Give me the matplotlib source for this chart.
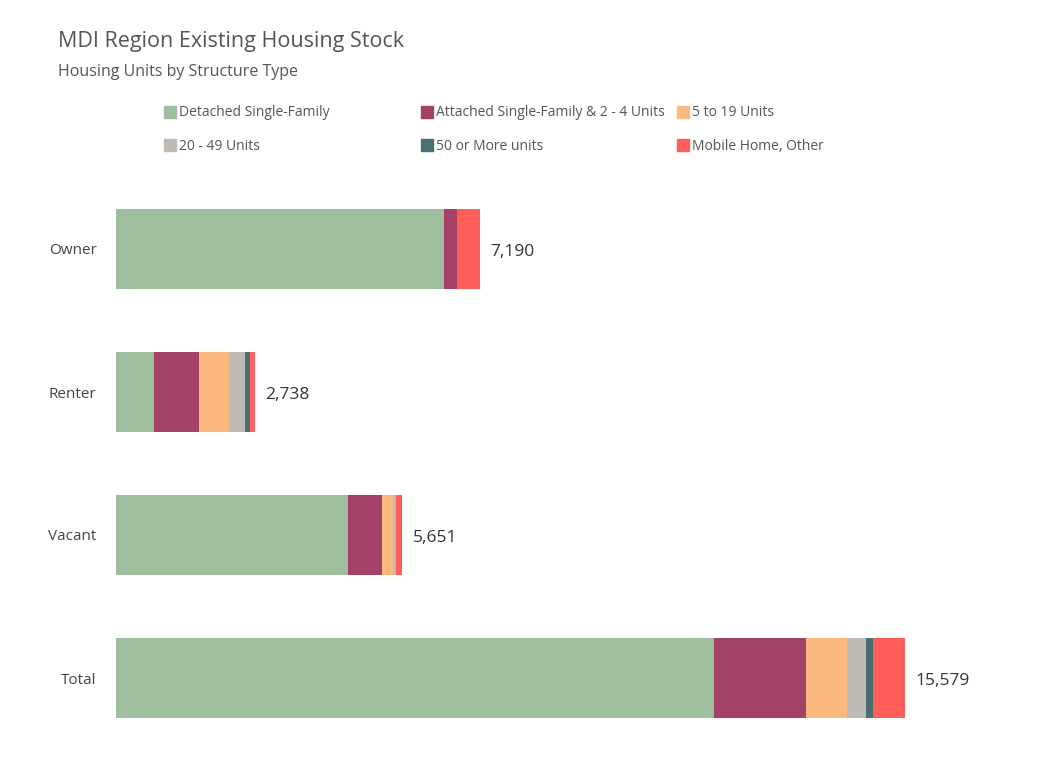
import matplotlib.pyplot as plt
from matplotlib.patches import Rectangle

plt.rcParams['font.family'] = ['Open Sans', 'DejaVu Sans']

# Data
categories = ['Owner', 'Renter', 'Vacant', 'Total']
series = ['Detached Single-Family', 'Attached Single-Family & 2 - 4 Units', '5 to 19 Units',
          '20 - 49 Units', '50 or More units', 'Mobile Home, Other']
detached = [6470, 750, 4578, 11798]
attached = [260, 880, 673, 1813]
units_5_19 = [0, 600, 223, 823]
units_20_49 = [0, 318, 59, 377]
units_50_plus = [0, 98, 0, 120]
mobile = [460, 92, 118, 648]
totals = [7190, 2738, 5651, 15579]

colors = ['#9FBE9D', '#A44167', '#FBB97E', '#BFBAB4', '#4A6F70', '#FF5E5B']
values = [detached, attached, units_5_19, units_20_49, units_50_plus, mobile]

W, H = 1062, 775
fig = plt.figure(figsize=(W / 100, H / 100), dpi=100)
ax = fig.add_axes([116 / W, (H - 749.5) / H, 912 / W, 572 / H])

ypos = list(range(len(categories)))
left = [0] * len(categories)
for vals, col, name in zip(values, colors, series):
    ax.barh(ypos, vals, left=left, height=0.56, color=col, label=name)
    left = [l + v for l, v in zip(left, vals)]

for y, t in zip(ypos, totals):
    ax.annotate(f'{t:,}', (t, y), xytext=(7.5, -2.5), textcoords='offset points',
                va='center', ha='left', fontsize=12.5, color='#333333')

ax.set_xlim(0, 18000)
ax.set_ylim(3.5, -0.5)
ax.set_yticks(ypos)
ax.set_yticklabels(categories, fontsize=11, color='#444444')
ax.tick_params(axis='y', length=0, pad=14)
ax.set_xticks([])
for spine in ax.spines.values():
    spine.set_visible(False)

# Titles
fig.text(58 / W, 1 - 41 / H, 'MDI Region Existing Housing Stock', fontsize=15.5,
         color='#555555', va='center', ha='left')
fig.text(58 / W, 1 - 72 / H, 'Housing Units by Structure Type', fontsize=11.5,
         color='#555555', va='center', ha='left')

# Legend laid out in a fixed grid like the original
col_x = [164, 421, 677]
row_y = [112, 145]
for i, (name, col) in enumerate(zip(series, colors)):
    x = col_x[i % 3]
    y = row_y[i // 3]
    fig.patches.append(Rectangle((x / W, 1 - (y + 6) / H), 12 / W, 12 / H,
                                 transform=fig.transFigure, color=col))
    fig.text((x + 15) / W, 1 - (y + 1) / H, name, fontsize=10, color='#555555',
             va='center', ha='left')

fig.savefig('out.png', dpi=100, facecolor='white')
